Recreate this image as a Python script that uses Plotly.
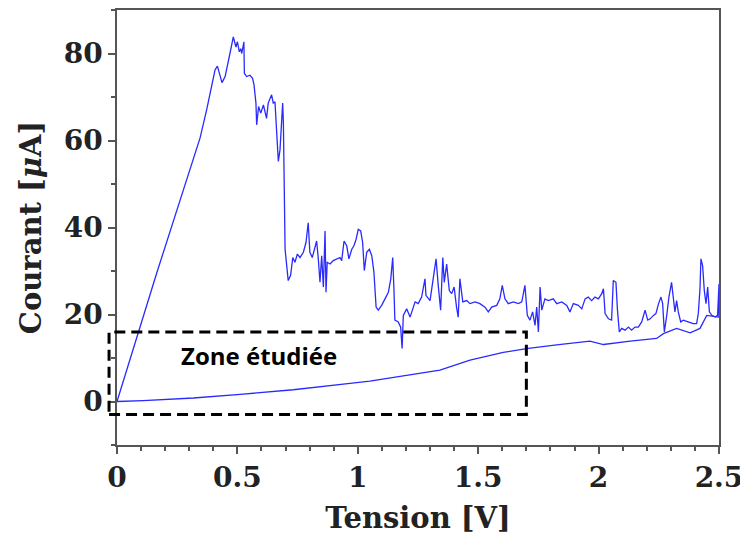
import plotly.graph_objects as go

# Données : balayage aller puis retour
tension_aller = [
    0.0, 0.166, 0.345, 0.372, 0.407, 0.417, 0.436, 0.449, 0.469, 0.483,
    0.494, 0.500, 0.508, 0.514, 0.518, 0.527, 0.529, 0.539, 0.552, 0.563,
    0.569, 0.577, 0.580, 0.588, 0.597, 0.608, 0.621, 0.628, 0.642, 0.649,
    0.656, 0.663, 0.670, 0.677, 0.684, 0.688, 0.691, 0.695, 0.698, 0.711,
    0.721, 0.730, 0.739, 0.749, 0.760, 0.774, 0.785, 0.794, 0.801, 0.811,
    0.822, 0.829, 0.836, 0.843, 0.850, 0.857, 0.864, 0.868, 0.873, 0.885,
    0.898, 0.912, 0.926, 0.933, 0.943, 0.954, 0.963, 0.975, 0.984, 0.993,
    1.002, 1.012, 1.020, 1.027, 1.037, 1.048, 1.058, 1.067, 1.076, 1.085,
    1.099, 1.113, 1.127, 1.137, 1.145, 1.150, 1.154, 1.168, 1.178, 1.184,
    1.189, 1.203, 1.217, 1.238, 1.251, 1.265, 1.279, 1.283, 1.300, 1.314,
    1.325, 1.334, 1.344, 1.353, 1.359, 1.369, 1.380, 1.390, 1.400, 1.410,
    1.417, 1.424, 1.436, 1.452, 1.466, 1.487, 1.507, 1.528, 1.542, 1.556,
    1.577, 1.590, 1.600, 1.611, 1.625, 1.646, 1.667, 1.681, 1.694, 1.704,
    1.715, 1.726, 1.736, 1.743, 1.750, 1.757, 1.764, 1.777, 1.791, 1.812,
    1.826, 1.847, 1.868, 1.881, 1.895, 1.916, 1.930, 1.944, 1.957, 1.971,
    1.985, 1.999, 2.013, 2.020, 2.027, 2.041, 2.054, 2.061, 2.072, 2.078,
    2.086, 2.096, 2.110, 2.124, 2.137, 2.151, 2.165, 2.179, 2.193, 2.204,
    2.214, 2.228, 2.238, 2.249, 2.259, 2.266, 2.273, 2.283, 2.292, 2.303,
    2.310, 2.317, 2.324, 2.331, 2.341, 2.352, 2.372, 2.393, 2.407, 2.414,
    2.421, 2.425, 2.432, 2.439, 2.446, 2.453, 2.460, 2.470, 2.484, 2.494,
    2.500, 2.500,
]
courant_aller = [
    0.0, 29.7, 60.6, 67.0, 76.2, 77.1, 73.3, 74.7, 80.0, 83.8,
    81.5, 82.7, 80.4, 81.1, 80.0, 82.7, 75.4, 74.7, 75.0, 74.3,
    72.8, 68.6, 63.6, 67.8, 66.3, 68.2, 65.1, 68.6, 70.5, 68.6,
    68.9, 60.2, 55.2, 57.9, 64.8, 68.6, 64.0, 48.4, 35.0, 27.8,
    29.0, 33.1, 32.0, 33.9, 33.1, 34.3, 36.6, 41.1, 34.3, 33.1,
    35.8, 36.9, 32.8, 27.4, 33.5, 26.3, 39.2, 25.1, 32.0, 31.6,
    32.4, 32.8, 33.1, 32.4, 36.9, 35.8, 32.8, 35.0, 35.8, 37.3,
    39.6, 39.2, 36.6, 30.1, 34.3, 35.0, 33.5, 29.7, 21.7, 21.0,
    22.1, 23.6, 25.1, 28.2, 33.1, 25.9, 18.7, 18.3, 17.1, 12.2,
    19.8, 21.3, 19.4, 22.9, 22.5, 24.0, 28.2, 24.4, 23.2, 28.6,
    32.8, 26.7, 21.0, 33.1, 27.4, 31.6, 25.5, 24.8, 26.3, 21.7,
    19.4, 28.2, 22.9, 23.2, 22.5, 22.9, 22.5, 21.7, 20.6, 21.7,
    22.1, 23.6, 26.7, 23.6, 22.5, 22.9, 22.5, 22.9, 26.7, 19.8,
    18.7, 20.6, 17.5, 21.7, 16.0, 26.3, 21.0, 23.6, 23.2, 23.6,
    22.5, 22.9, 22.1, 20.6, 22.5, 22.1, 21.3, 23.6, 24.0, 23.2,
    24.0, 23.6, 24.8, 25.9, 20.2, 19.0, 18.7, 27.8, 27.4, 21.3,
    16.0, 16.8, 16.4, 17.1, 16.4, 17.1, 17.1, 18.3, 21.0, 18.7,
    19.0, 19.8, 20.2, 22.5, 24.0, 22.5, 16.0, 19.8, 24.0, 27.4,
    24.4, 20.6, 23.2, 20.6, 18.3, 18.7, 18.3, 17.9, 17.9, 20.2,
    25.9, 32.8, 31.2, 25.5, 22.5, 26.3, 20.6, 19.8, 19.4, 19.8,
    27.0, 19.4,
]

tension_retour = [
    2.500, 2.449, 2.421, 2.380, 2.324, 2.269, 2.241, 2.131, 2.020, 1.964,
    1.826, 1.708, 1.604, 1.466, 1.341, 1.189, 1.050, 0.940, 0.732, 0.525,
    0.317, 0.109, 0.0,
]
courant_retour = [
    19.4, 19.8, 16.8, 15.8, 16.8, 15.6, 14.5, 13.9, 13.1, 13.9,
    13.0, 12.2, 11.3, 9.5, 7.2, 5.9, 4.7, 4.0, 2.7, 1.7,
    0.8, 0.2, 0.0,
]

x_ticks = [0, 0.5, 1, 1.5, 2, 2.5]
y_ticks = [0, 20, 40, 60, 80]

# Zone étudiée (en unités des axes)
zone_x = [-0.033, 1.70]
zone_y = [-3.0, 16.0]

X_RANGE = [0, 2.5]
Y_RANGE = [-10, 90]

COULEUR_COURBE = "#2a2aff"
GRIS_AXE = "#555555"
POLICE_AXES = "DejaVu Serif"


def vers_papier(v, plage):
    return (v - plage[0]) / (plage[1] - plage[0])


fig = go.Figure()
for tx, cy in [(tension_aller, courant_aller), (tension_retour, courant_retour)]:
    fig.add_trace(go.Scatter(
        x=tx, y=cy, mode="lines",
        line=dict(color=COULEUR_COURBE, width=1.3),
        showlegend=False, hoverinfo="skip",
    ))

# rectangle pointillé, en coordonnées papier pour pouvoir déborder de l'axe
fig.add_shape(
    type="rect", xref="paper", yref="paper",
    x0=vers_papier(zone_x[0], X_RANGE), x1=vers_papier(zone_x[1], X_RANGE),
    y0=vers_papier(zone_y[0], Y_RANGE), y1=vers_papier(zone_y[1], Y_RANGE),
    line=dict(color="black", width=3, dash="11px,6px"),
    layer="above",
)
fig.add_annotation(
    x=0.59, y=10.6, xref="x", yref="y", text="<b>Zone étudiée</b>",
    showarrow=False, font=dict(family="Open Sans", size=24, color="black"),
)

axe = dict(
    showline=True, linecolor=GRIS_AXE, linewidth=1.5, mirror=True,
    ticks="outside", ticklen=7, tickwidth=1.5, tickcolor=GRIS_AXE,
    showgrid=False, zeroline=False,
    tickfont=dict(family=POLICE_AXES, size=28, color="#222"),
    title_font=dict(family=POLICE_AXES, size=29, color="#222"),
)

fig.update_xaxes(
    range=X_RANGE, tickvals=x_ticks,
    ticktext=[f"<b>{t:g}</b>" for t in x_ticks],
    minor=dict(dtick=0.1, ticks="outside", ticklen=4, tickcolor=GRIS_AXE),
    title_text="<b>Tension [V]</b>", title_standoff=14,
    **axe,
)
fig.update_yaxes(
    range=Y_RANGE, tickvals=y_ticks,
    ticktext=[f"<b>{t:g}</b>" for t in y_ticks],
    minor=dict(dtick=10, ticks="outside", ticklen=4, tickcolor=GRIS_AXE),
    title_text="<b>Courant [<i>μ</i>A]</b>", title_standoff=14,
    **axe,
)

# la page ajoute une marge de 8 px autour du graphique
fig.update_layout(
    width=748, height=539,
    margin=dict(l=109, r=37, t=0, b=102),
    plot_bgcolor="white", paper_bgcolor="white",
)

fig.write_html("out.html")
